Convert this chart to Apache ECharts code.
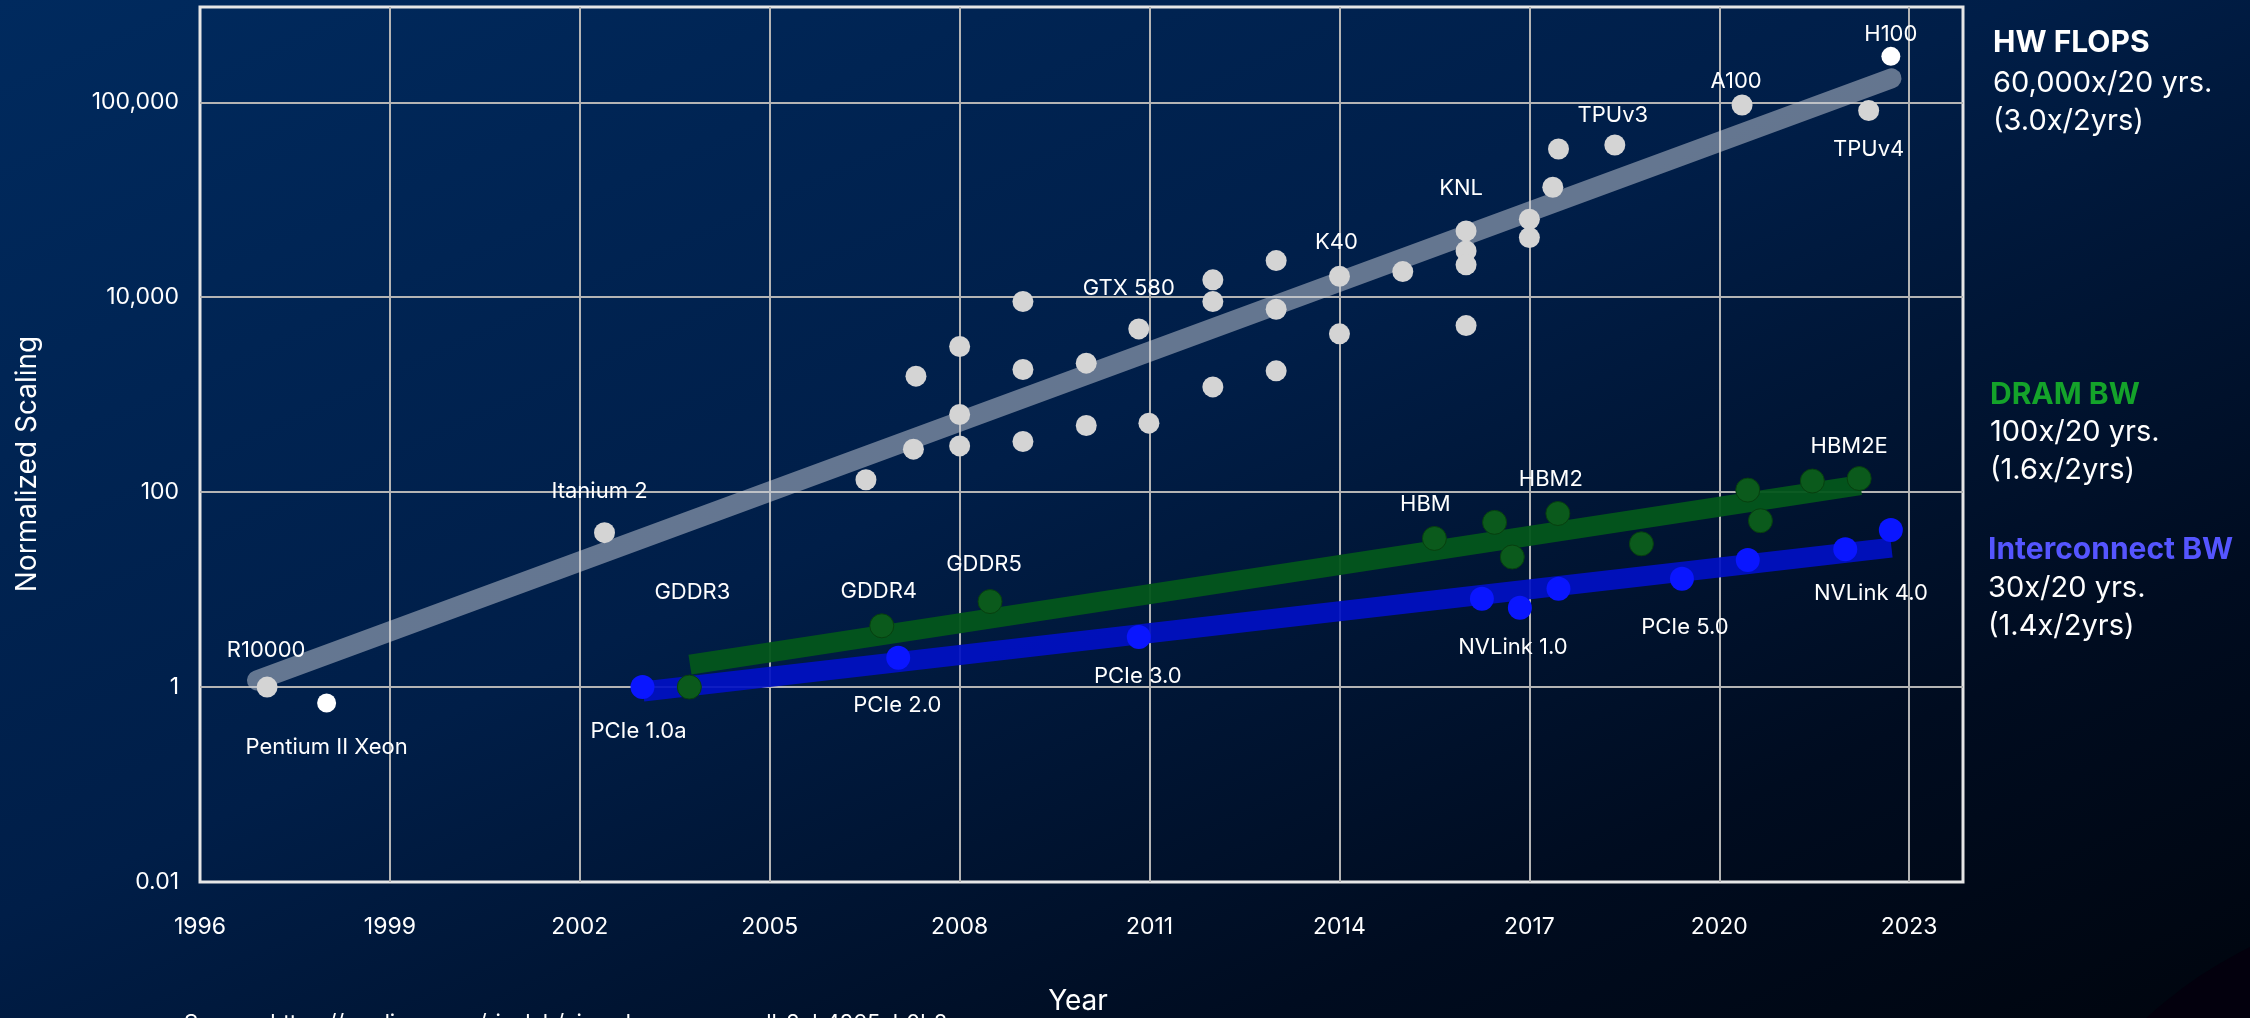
<!DOCTYPE html>
<html>
<head>
<meta charset="utf-8">
<title>HW FLOPS vs memory and interconnect bandwidth</title>
<script src="https://cdn.jsdelivr.net/npm/echarts@6/dist/echarts.min.js"></script>
<style>
  html, body { margin: 0; padding: 0; width: 2250px; height: 1018px; overflow: hidden;
    background: linear-gradient(to bottom right, #002a5e 0%, #001e48 45%, #000c20 78%, #00050e 100%); }
  #chart { width: 2250px; height: 1018px; }
</style>
</head>
<body>
<div id="chart"></div>
<script>
var YEAR0 = 1996;

// y gridlines (log base 100) and the labels printed on them
var yTickValues = [0.01, 1, 100, 10000, 1000000];
var yTickLabels = ['0.01', '1', '100', '10,000', '100,000'];

// HW FLOPS
var flopsYears  = [1997.06, 2002.39, 2006.52, 2007.27, 2007.31, 2008, 2008, 2008, 2009, 2009, 2009,
                   2010, 2010, 2010.83, 2010.99, 2012, 2012, 2012, 2013, 2013, 2013, 2014, 2014,
                   2015, 2016, 2016, 2016, 2016, 2017, 2017, 2017.37, 2017.46, 2018.35, 2020.36, 2022.36];
var flopsValues = [1, 38.4, 134, 276, 1549, 298, 626, 3120, 331, 1812, 9040,
                   483, 2104, 4732, 510, 1202, 9040, 15070, 1755, 7534, 23770, 4207, 16410,
                   18330, 47860, 29850, 21480, 5117, 63100, 40900, 134300, 332000, 365000, 939000, 822000];
var flopsNames  = ['R10000', 'Itanium 2', '', '', '', '', '', '', '', '', '',
                   '', '', 'GTX 580', '', '', '', '', '', '', '', '', 'K40',
                   '', 'KNL', '', '', '', '', '', '', '', 'TPUv3', 'A100', 'TPUv4'];
// the two white highlighted chips
var hiYears  = [1998.0, 2022.71];
var hiValues = [0.686, 2960000];
var hiNames  = ['Pentium II Xeon', 'H100'];

// DRAM BW
var dramYears  = [2003.73, 2006.77, 2008.48, 2015.5, 2016.45, 2016.73, 2017.45, 2018.77, 2020.45, 2020.65, 2021.47, 2022.21];
var dramValues = [1, 4.25, 7.54, 33.5, 49, 21.6, 60.4, 29.5, 105, 50.9, 130, 138];
var dramNames  = ['GDDR3', 'GDDR4', 'GDDR5', 'HBM', '', '', 'HBM2', '', '', '', '', 'HBM2E'];

// Interconnect BW
var icYears  = [2002.99, 2007.03, 2010.83, 2016.25, 2016.85, 2017.46, 2019.41, 2020.45, 2021.99, 2022.71];
var icValues = [1, 2.0, 3.27, 8.05, 6.5, 10.2, 12.9, 20.1, 25.9, 40.8];
var icNames  = ['PCIe 1.0a', 'PCIe 2.0', 'PCIe 3.0', '', 'NVLink 1.0', '', 'PCIe 5.0', '', '', 'NVLink 4.0'];

// fitted trend lines: [start year, start value, end year, end value]
var flopsTrend = [1996.9, 1.17, 2022.72, 1760000];
var dramTrend  = [2003.74, 1.7, 2022.23, 118];
var icTrend    = [2003.0, 0.9, 2022.72, 27];

// where each name sits relative to its dot (px)
var labelOffsets = {
  'R10000': [-1, -37], 'Pentium II Xeon': [0, 44], 'Itanium 2': [-5, -41], 'GTX 580': [-10, -40],
  'K40': [-3, -34], 'KNL': [-5, -43], 'TPUv3': [-2, -30], 'A100': [-6, -24], 'TPUv4': [0, 39],
  'H100': [0, -22], 'GDDR3': [3, -95], 'GDDR4': [-3, -34], 'GDDR5': [-6, -37], 'HBM': [-9, -34],
  'HBM2': [-7, -34], 'HBM2E': [-10, -32], 'PCIe 1.0a': [-4, 44], 'PCIe 2.0': [-1, 48],
  'PCIe 3.0': [-1, 39], 'NVLink 1.0': [-7, 40], 'PCIe 5.0': [3, 49], 'NVLink 4.0': [-20, 63]
};

var FONT = 'Inter, "Noto Sans", sans-serif';

function points(years, values, names) {
  return years.map(function (yr, i) {
    var item = { value: [yr - YEAR0, values[i]] };
    if (names[i]) {
      item.name = names[i];
      item.label = { show: true, offset: labelOffsets[names[i]] || [0, -30] };
    }
    return item;
  });
}

function trend(t) {
  return [[t[0] - YEAR0, t[1]], [t[2] - YEAR0, t[3]]];
}

var pointLabel = {
  show: false, position: 'inside', formatter: '{b}', color: '#ffffff', opacity: 1,
  fontSize: 22, fontFamily: FONT, textBorderWidth: 0
};

var chart = echarts.init(document.getElementById('chart'), null, { renderer: 'canvas' });

chart.setOption({
  backgroundColor: 'transparent',
  animation: false,
  grid: { left: 200, right: 287, top: 7, bottom: 136, show: true,
          borderColor: '#e6e6e6', borderWidth: 3, backgroundColor: 'transparent' },
  xAxis: {
    type: 'value', min: 0, max: 27.85, interval: 3,
    axisLine: { show: false }, axisTick: { show: false },
    splitLine: { show: true, showMinLine: false, showMaxLine: false,
                 lineStyle: { color: '#b4b4b4', width: 2 } },
    axisLabel: { color: '#ffffff', fontSize: 23, fontFamily: FONT, margin: 34, showMaxLabel: false,
                 formatter: function (v) { return v % 3 === 0 ? String(v + YEAR0) : ''; } }
  },
  yAxis: {
    type: 'log', logBase: 100, min: 0.01, max: 9.5e6,
    axisLine: { show: false }, axisTick: { show: false },
    splitLine: { show: true, showMinLine: false, showMaxLine: false,
                 lineStyle: { color: '#b4b4b4', width: 2 } },
    axisLabel: { color: '#ffffff', fontSize: 23, fontFamily: FONT, margin: 21,
                 formatter: function (v) {
                   for (var i = 0; i < yTickValues.length; i++) {
                     if (Math.abs(Math.log10(v) - Math.log10(yTickValues[i])) < 1e-6) return yTickLabels[i];
                   }
                   return '';
                 } }
  },
  series: [
    { type: 'line', data: trend(flopsTrend), symbol: 'none', z: 2,
      lineStyle: { color: 'rgba(200,205,215,0.5)', width: 20, cap: 'round' } },
    { type: 'line', data: trend(dramTrend), symbol: 'none', z: 2,
      lineStyle: { color: '#03561b', width: 20, cap: 'butt', opacity: 0.95 } },
    { type: 'line', data: trend(icTrend), symbol: 'none', z: 2,
      lineStyle: { color: '#0010c4', width: 20, cap: 'butt', opacity: 0.92 } },
    { type: 'scatter', data: points(flopsYears, flopsValues, flopsNames), symbolSize: 21, z: 3,
      itemStyle: { color: '#d4d4d4', opacity: 1 }, label: pointLabel },
    { type: 'scatter', data: points(hiYears, hiValues, hiNames), symbolSize: 19, z: 3,
      itemStyle: { color: '#ffffff', opacity: 1 }, label: pointLabel },
    { type: 'scatter', data: points(dramYears, dramValues, dramNames), symbolSize: 24, z: 3,
      itemStyle: { color: '#0b5a1c', borderColor: '#07400f', borderWidth: 1, opacity: 1 }, label: pointLabel },
    { type: 'scatter', data: points(icYears, icValues, icNames), symbolSize: 24, z: 3,
      itemStyle: { color: '#0a16ff', opacity: 1 }, label: pointLabel }
  ],
  graphic: [
    { type: 'circle', shape: { cx: 2450, cy: 1350, r: 450 }, style: { fill: '#03000d' }, z: -1 },
    { type: 'text', x: 28, y: 464, rotation: Math.PI / 2,
      style: { text: 'Normalized Scaling', fill: '#ffffff', font: '28px ' + FONT, textAlign: 'center', textVerticalAlign: 'middle' } },
    { type: 'text', x: 1078, y: 1002,
      style: { text: 'Year', fill: '#ffffff', font: '28px ' + FONT, textAlign: 'center', textVerticalAlign: 'middle' } },
    { type: 'text', x: 184, y: 1012,
      style: { text: 'Source: https://medium.com/riselab/ai-and-memory-wall-2cb4265cb0b8', fill: '#ffffff', font: '22px ' + FONT, textVerticalAlign: 'top' } },

    { type: 'text', x: 1993, y: 43, style: { text: 'HW FLOPS', fill: '#ffffff', font: 'bold 30px ' + FONT, textVerticalAlign: 'middle' } },
    { type: 'text', x: 1993, y: 83, style: { text: '60,000x/20 yrs.', fill: '#ffffff', font: '29px ' + FONT, textVerticalAlign: 'middle' } },
    { type: 'text', x: 1993, y: 121, style: { text: '(3.0x/2yrs)', fill: '#ffffff', font: '29px ' + FONT, textVerticalAlign: 'middle' } },

    { type: 'text', x: 1990, y: 395, style: { text: 'DRAM BW', fill: '#14a32a', font: 'bold 30px ' + FONT, textVerticalAlign: 'middle' } },
    { type: 'text', x: 1990, y: 432, style: { text: '100x/20 yrs.', fill: '#ffffff', font: '29px ' + FONT, textVerticalAlign: 'middle' } },
    { type: 'text', x: 1990, y: 470, style: { text: '(1.6x/2yrs)', fill: '#ffffff', font: '29px ' + FONT, textVerticalAlign: 'middle' } },

    { type: 'text', x: 1988, y: 550, style: { text: 'Interconnect BW', fill: '#5555ff', font: 'bold 30px ' + FONT, textVerticalAlign: 'middle' } },
    { type: 'text', x: 1988, y: 588, style: { text: '30x/20 yrs.', fill: '#ffffff', font: '29px ' + FONT, textVerticalAlign: 'middle' } },
    { type: 'text', x: 1988, y: 626, style: { text: '(1.4x/2yrs)', fill: '#ffffff', font: '29px ' + FONT, textVerticalAlign: 'middle' } }
  ]
});
</script>
</body>
</html>
